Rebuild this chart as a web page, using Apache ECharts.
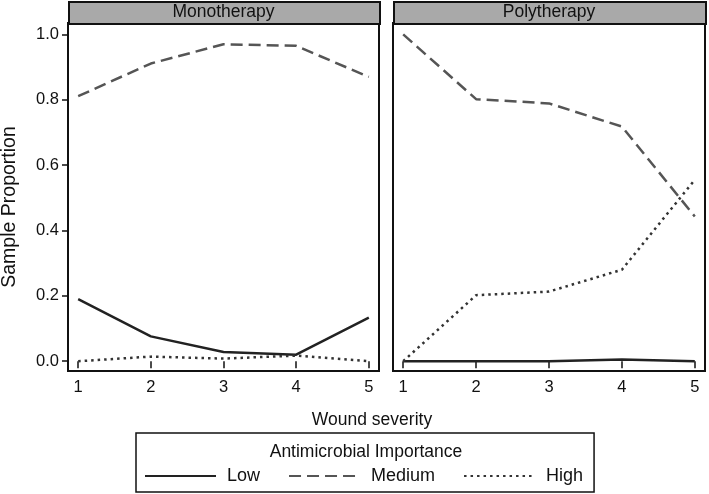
<!DOCTYPE html>
<html>
<head>
<meta charset="utf-8">
<script src="https://cdn.jsdelivr.net/npm/echarts@6/dist/echarts.min.js"></script>
<style>html,body{margin:0;padding:0;background:#fff}#c{width:709px;height:494px}</style>
</head>
<body>
<div id="c"></div>
<script>
var panels = ['Monotherapy', 'Polytherapy'];
var severity = [1, 2, 3, 4, 5];
var yTicks = [0, 0.2, 0.4, 0.6, 0.8, 1.0];
var monoLow = [0.19, 0.076, 0.028, 0.02, 0.133];
var monoMedium = [0.811, 0.911, 0.970, 0.965, 0.870];
var monoHigh = [0.0, 0.014, 0.008, 0.017, 0.0];
var polyLow = [0.0, 0.0, 0.0, 0.005, 0.0];
var polyMedium = [1.0, 0.802, 0.789, 0.718, 0.443];
var polyHigh = [0.0, 0.202, 0.213, 0.28, 0.555];
var seriesNames = ['Low', 'Medium', 'High'];
var legendTitle = 'Antimicrobial Importance';
var xTitle = 'Wound severity';
var yTitle = 'Sample Proportion';

var FONT = 'Liberation Sans, Arial, sans-serif';
var styles = {
  Low: {color: '#222', width: 2.5, type: 'solid'},
  Medium: {color: '#555', width: 2.5, type: [12, 6]},
  High: {color: '#333', width: 2.5, type: [2.5, 4]}
};
function pairs(v){ return severity.map(function(s,i){ return [s, v[i]]; }); }
var data = [[monoLow, monoMedium, monoHigh],[polyLow, polyMedium, polyHigh]];

var grids = [
  {left: 68, top: 23, width: 311, height: 348},
  {left: 393, top: 23, width: 312, height: 348}
];
var xAxes = [], yAxes = [], series = [], graphics = [];
grids.forEach(function(g, gi){
  g.show = true; g.borderColor = '#111'; g.borderWidth = 2; g.backgroundColor = '#fff';
  xAxes.push({
    type: 'value', gridIndex: gi, min: 0.86, max: 5.14,
    axisLine: {show: false}, splitLine: {show: false},
    axisTick: {show: true, length: 7, inside: false, customValues: severity, lineStyle: {color: '#111', width: 1.5}},
    axisLabel: {customValues: severity, margin: 8, fontSize: 16.5, color: '#111', fontFamily: FONT}
  });
  yAxes.push({
    type: 'value', gridIndex: gi, min: -0.03, max: 1.035,
    axisLine: {show: false}, splitLine: {show: false},
    axisTick: {show: gi === 0, length: 6, customValues: yTicks, lineStyle: {color: '#111', width: 1.5}},
    axisLabel: {show: gi === 0, customValues: yTicks, margin: 9, fontSize: 16.5, color: '#111', fontFamily: FONT,
      formatter: function(v){ return Number(v).toFixed(1); }}
  });
  seriesNames.forEach(function(n, si){
    var st = styles[n];
    series.push({
      name: n, type: 'line', xAxisIndex: gi, yAxisIndex: gi,
      data: pairs(data[gi][si]), symbol: 'none', showSymbol: false,
      lineStyle: {color: st.color, width: st.width, type: st.type},
      itemStyle: {color: st.color}, silent: true, animation: false
    });
  });
  graphics.push({
    type: 'rect', left: g.left, top: 1, z: 10,
    shape: {width: g.width, height: 22},
    style: {fill: '#a9a9a9', stroke: '#111', lineWidth: 2}
  });
  graphics.push({
    type: 'text', x: g.left + g.width / 2, y: 12.5, z: 11,
    style: {text: panels[gi], fontSize: 17.5, fill: '#111', fontFamily: FONT, align: 'center', verticalAlign: 'middle'}
  });
});
graphics.push({
  type: 'text', x: 10, y: 207, rotation: Math.PI / 2, z: 11,
  style: {text: yTitle, fontSize: 19.5, fill: '#111', fontFamily: FONT, align: 'center', verticalAlign: 'middle'}
});

var option = {
  animation: false,
  backgroundColor: '#fff',
  grid: grids,
  xAxis: xAxes,
  yAxis: yAxes,
  series: series,
  title: [
    {text: xTitle, left: 367, top: 406, textAlign: 'center',
     textStyle: {fontSize: 17.5, fontWeight: 'normal', color: '#111', fontFamily: FONT}},
    {text: legendTitle, left: 366, top: 443, textAlign: 'center', padding: 0,
     textStyle: {fontSize: 17.5, fontWeight: 'normal', color: '#111', fontFamily: FONT}}
  ],
  legend: {
    data: seriesNames.map(function(n){ return {name: n, itemStyle: {opacity: 0}}; }),
    left: 136, top: 433,
    padding: [34, 11, 7, 8],
    borderColor: '#111', borderWidth: 1.5,
    itemWidth: 71, itemHeight: 14, itemGap: 28,
    textStyle: {fontSize: 18, color: '#111', fontFamily: FONT, padding: [0, 0, 0, 6]},
    selectedMode: false
  },
  graphic: graphics
};
var chart = echarts.init(document.getElementById('c'), null, {renderer: 'canvas'});
chart.setOption(option);
</script>
</body>
</html>
